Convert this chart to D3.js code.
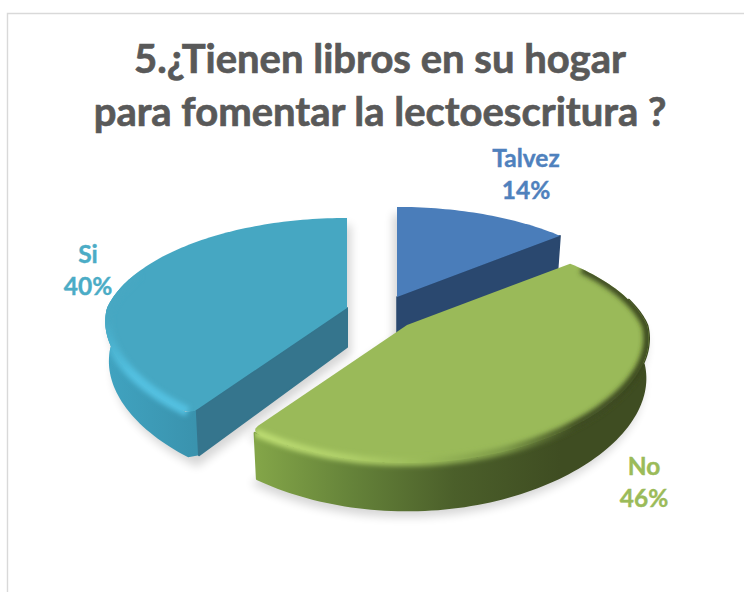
<!DOCTYPE html>
<html><head><meta charset="utf-8">
<script src="https://cdn.jsdelivr.net/npm/d3@7"></script>
<style>html,body{margin:0;padding:0;background:#fff}svg{display:block}text{font-family:Lato,"Open Sans",sans-serif;font-weight:700}</style>
</head><body><div id="chart"></div>
<script>
const categories = ["Talvez", "No", "Si"];
const values = [14, 46, 40];
const percentLabels = ["14%", "46%", "40%"];
const titleLines = ["5.¿Tienen libros en su hogar", "para fomentar la lectoescritura ?"];
const topColors = ["#4a7dba", "#9aba59", "#46a7c2"];
const textColors = ["#4f81bd", "#9bbb59", "#4bacc6"];

const W = 744, H = 592;
const center = [381.5, 312];
const pull = [[15.5, -15], [25.5, 13], [-34.5, -4]];
const shadowShift = [-4, -2, 4];
const tilt = 0.21, tiltFront = 0.12, radiusY = 109, radiusX = 240, depth0 = 41, dropShrink = 0.985;

const svg = d3.select("#chart").append("svg").attr("width", W).attr("height", H);
svg.append("path").attr("d", `M7.5,${H}V13.5H${W}`).attr("fill", "none").attr("stroke", "#d9d9d9").attr("stroke-width", 1.4);

const defs = svg.append("defs");
const blur = (id, s) => defs.append("filter").attr("id", id)
  .attr("x", "-20%").attr("y", "-20%").attr("width", "140%").attr("height", "140%")
  .append("feGaussianBlur").attr("stdDeviation", s);
blur("soft", 5); blur("rimblur", 2.4);
const grad = (id, x1, x2, y1, y2, stops) => {
  const g = defs.append("linearGradient").attr("id", id).attr("gradientUnits", "userSpaceOnUse")
    .attr("x1", x1).attr("x2", x2).attr("y1", y1).attr("y2", y2);
  stops.forEach(s => g.append("stop").attr("offset", s[0]).attr("stop-color", s[1]));
};
grad("wallNo", 257, 560, 0, 0, [[0, "#83a548"], [0.3, "#66843a"], [0.65, "#4b5f2a"], [1, "#3f4d22"]]);
grad("rimNo", 257, 655, 0, 0, [[0, "#bcdc72"], [0.22, "#b0d069"], [0.42, "#9aba59"], [0.62, "#7d9a48"], [0.8, "#3f4d22"], [1, "#39451e"]]);
grad("wallSi", 106, 195, 0, 0, [[0, "#40a3c0"], [1, "#3a93ae"]]);
grad("rimSi", 0, 0, 320, 375, [[0, "#46a7c2"], [1, "#52c0e0"]]);

const xScale = d3.scaleLinear().domain([-1, 1]).range([-radiusX, radiusX]);
const yScale = d3.scaleLinear().domain([-1, 1]).range([-radiusY, radiusY]);
const depthScale = d3.scaleLinear().domain([-1, 1]).range([depth0 * 0.75, depth0 * 1.15]);

// perspective projection of a point on the unit disc (a = clockwise from the top)
function proj(a, r, i, drop) {
  const X = r * Math.sin(a), Y = -r * Math.cos(a), k = 1 - tilt * Y;
  const kx = 1 - (Y > 0 ? tiltFront : tilt) * Y;
  return [center[0] + pull[i][0] + xScale(X) / kx * (drop ? dropShrink : 1),
          center[1] + pull[i][1] + yScale(Y) / k + (drop ? depthScale(Y) : 0)];
}
const line = d3.line();
const arcPts = (a0, a1, r, i, drop) => {
  const n = Math.max(2, Math.ceil(Math.abs(a1 - a0) * 40));
  return d3.range(n + 1).map(j => proj(a0 + (a1 - a0) * j / n, r, i, drop));
};
const rad = d => d * Math.PI / 180;
const roundA = 0.05, roundR = 0.955;

// rounded corner between the rim (at angle a + side*roundA) and the cut edge (at a, inset)
function cornerPts(a, side, i, drop) {
  const p0 = proj(a + side * roundA, 1, i, drop), c = proj(a, 1, i, drop), p2 = proj(a, roundR, i, drop);
  return d3.range(9).map(j => {
    const t = j / 8, u = 1 - t;
    return [u * u * p0[0] + 2 * u * t * c[0] + t * t * p2[0], u * u * p0[1] + 2 * u * t * c[1] + t * t * p2[1]];
  });
}

const slices = d3.pie().sort(null).value(d => d)(values).map((s, i) => ({...s, i}));

const topPath = s => line([proj(0, 0, s.i, false), ...arcPts(s.startAngle, s.endAngle, 1, s.i, false)]) + "Z";
const solidPath = s => line([proj(0, 0, s.i, true), ...arcPts(s.startAngle, s.endAngle, 1, s.i, true)]) + "Z";
const wallPath = (a0, a1, i) => line([...arcPts(a0, a1, 1, i, false), ...arcPts(a1, a0, 1, i, true)]) + "Z";
const cutPath = (a, r, i) => line([proj(0, 0, i, false), proj(a, r, i, false), proj(a, r, i, true), proj(0, 0, i, true)]) + "Z";

// soft ground shadows
slices.forEach(s => {
  const sh = svg.append("g").attr("fill", "#000").attr("opacity", 0.16)
    .attr("transform", `translate(${shadowShift[s.i]},7)`).attr("filter", "url(#soft)");
  sh.append("path").attr("d", solidPath(s));
  sh.append("path").attr("d", topPath(s));
});

const [tal, no, si] = slices;
const G = () => svg.append("g").attr("stroke-linejoin", "round");

// rounded outlines for the two front tips
const siTop = line([proj(0, 0, 2, false), ...cornerPts(si.startAngle, 1, 2, false).reverse(),
  ...arcPts(si.startAngle + roundA, si.endAngle, 1, 2, false)]) + "Z";
const noTop = line([proj(0, 0, 1, false), ...arcPts(no.startAngle, no.endAngle - roundA, 1, 1, false),
  ...cornerPts(no.endAngle, -1, 1, false)]) + "Z";
const siWall = line([proj(si.startAngle, roundR + 0.01, 2, false),
  ...arcPts(si.startAngle + roundA * 0.5, rad(286), 1, 2, false),
  ...arcPts(rad(286), si.startAngle + roundA * 0.5, 1, 2, true),
  proj(si.startAngle, roundR + 0.01, 2, true)]) + "Z";
const noWall = wallPath(rad(76), no.endAngle - roundA * 0.4, 1);

const siClip = defs.append("clipPath").attr("id", "siClip");
siClip.append("path").attr("d", siTop); siClip.append("path").attr("d", siWall);
const noClip = defs.append("clipPath").attr("id", "noClip");
noClip.append("path").attr("d", noTop); noClip.append("path").attr("d", noWall);

// Si
let g = G();
g.append("path").attr("d", siWall).attr("fill", "url(#wallSi)");
g.append("path").attr("d", cutPath(si.startAngle, roundR + 0.01, 2)).attr("fill", "#35758d").attr("stroke", "#35758d").attr("stroke-width", 2);
g.append("path").attr("d", siTop).attr("fill", topColors[2]);
g.append("path").attr("d", line(arcPts(si.startAngle + 0.02, rad(290), 0.995, 2, false))).attr("fill", "none")
  .attr("stroke", "url(#rimSi)").attr("stroke-width", 10).attr("filter", "url(#rimblur)")
  .attr("clip-path", "url(#siClip)");

// Talvez
g = G();
g.append("path").attr("d", cutPath(tal.endAngle, 1, 0)).attr("fill", "#2a486f").attr("stroke", "#2a486f").attr("stroke-width", 1.5);
g.append("path").attr("d", topPath(tal)).attr("fill", topColors[0]);

// No
g = G();
g.append("path").attr("d", noWall).attr("fill", "url(#wallNo)").attr("stroke", "url(#wallNo)").attr("stroke-width", 2.5);
g.append("path").attr("d", noTop).attr("fill", topColors[1]);
g.append("path").attr("d", line(arcPts(no.startAngle + 0.08, no.endAngle - 0.02, 0.995, 1, false))).attr("fill", "none")
  .attr("stroke", "url(#rimNo)").attr("stroke-width", 8).attr("filter", "url(#rimblur)")
  .attr("clip-path", "url(#noClip)");

// title
svg.append("g").selectAll("text").data(titleLines).join("text")
  .attr("x", 380).attr("y", (d, i) => 73 + i * 52.5)
  .attr("text-anchor", "middle").attr("font-size", 40).attr("fill", "#595959")
  .attr("stroke", "#595959").attr("stroke-width", 0.7).text(d => d);

// labels
const labelPos = [[526, 167], [644, 475], [88, 263]];
categories.forEach((c, i) => {
  const t = svg.append("text").attr("text-anchor", "middle").attr("font-size", 24.5).attr("fill", textColors[i])
    .attr("stroke", textColors[i]).attr("stroke-width", 0.4);
  t.append("tspan").attr("x", labelPos[i][0]).attr("y", labelPos[i][1]).text(c);
  t.append("tspan").attr("x", labelPos[i][0]).attr("y", labelPos[i][1] + 32).text(percentLabels[i]);
});
</script></body></html>
